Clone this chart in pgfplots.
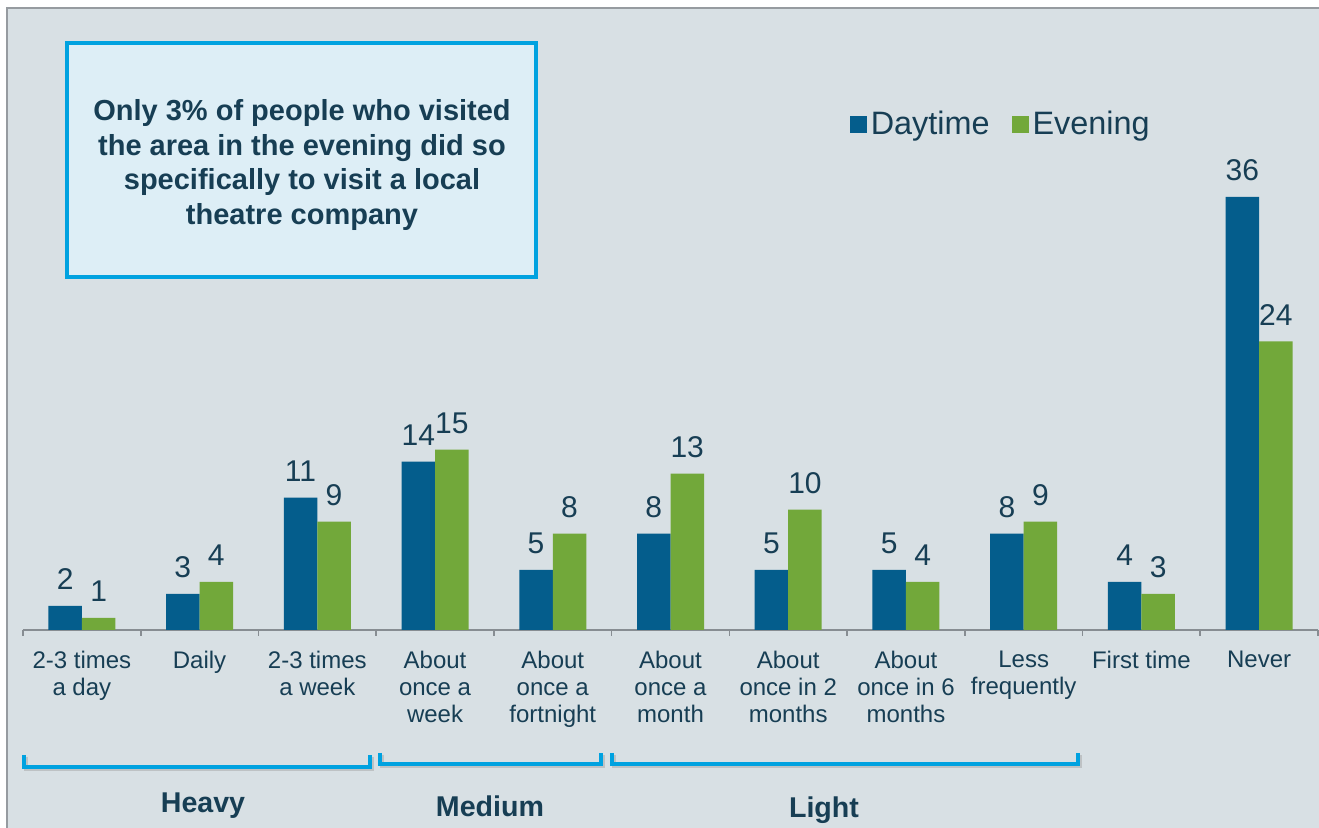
\documentclass[border=0pt]{standalone}
\usepackage{fontspec}
\setmainfont{Liberation Sans}
\usepackage{pgfplots}
\pgfplotsset{compat=1.18}

\definecolor{panel}{RGB}{216,224,228}
\definecolor{panelborder}{RGB}{150,155,160}
\definecolor{day}{RGB}{4,93,140}
\definecolor{eve}{RGB}{114,168,58}
\definecolor{txt}{RGB}{23,62,84}
\definecolor{bracket}{RGB}{0,162,224}
\definecolor{boxfill}{RGB}{221,238,246}
\definecolor{axisgray}{RGB}{135,141,146}

\begin{document}
\begin{tikzpicture}
\path[use as bounding box] (0,0) rectangle (659.5pt,414pt);
\fill[white] (0,0) rectangle (659.5pt,414pt);
\fill[panel] (3.5pt,0) rectangle (659.5pt,410pt);
\draw[panelborder, line width=0.8pt] (3.5pt,0) -- (3.5pt,410pt) -- (659.5pt,410pt);

\begin{axis}[
  at={(11.5pt,99pt)}, anchor=south west,
  scale only axis, width=647.5pt, height=240.6pt,
  xmin=-0.5, xmax=10.5, ymin=0, ymax=40,
  ybar=0pt, bar width=16.75pt,
  axis y line=none, axis x line*=bottom,
  x axis line style={axisgray, line width=0.8pt},
  xtick={-0.5,0.5,...,10.5},
  x tick label as interval,
  xticklabels={{2-3 times\\a day},{Daily},{2-3 times\\a week},{About\\once a\\week},{About\\once a\\fortnight},{About\\once a\\month},{About\\once in 2\\months},{About\\once in 6\\months},{Less\\frequently},{First time},{Never}},
  xticklabel style={font=\fontsize{12}{13.5}\selectfont, text=txt, align=center, yshift=-4pt},
  major tick length=3pt, tick align=outside,
  xtick style={axisgray, line width=0.8pt},
  /pgf/number format/assume math mode=true,
  nodes near coords,
  every node near coord/.append style={font=\fontsize{15}{18}\selectfont, text=txt, yshift=4.5pt},
  legend style={at={(0.6335,1.05)}, anchor=west, draw=none, fill=none,
    font=\fontsize{16.2}{19}\selectfont, text=txt,
    /tikz/every even column/.append style={column sep=9pt}},
  legend columns=2,
  legend image code/.code={\fill[#1,draw=none] (0pt,-4.25pt) rectangle (8.5pt,4.25pt);},
]
\addplot[fill=day, draw=none] coordinates {
(0,2) (1,3) (2,11) (3,14) (4,5) (5,8) (6,5) (7,5) (8,8) (9,4) (10,36)
};
\addplot[fill=eve, draw=none] coordinates {
(0,1) (1,4) (2,9) (3,15) (4,8) (5,13) (6,10) (7,4) (8,9) (9,3) (10,24)
};
\legend{Daytime,Evening}
\end{axis}

% callout box
\node[draw=bracket, line width=2pt, fill=boxfill, minimum width=234.5pt, minimum height=117pt]
  at (150.75pt,334pt) {};
\node[align=center, text=txt, font=\bfseries\fontsize{14.5}{17.2}\selectfont]
  at (151pt,331.5pt)
  {Only 3\% of people who visited\\the area in the evening did so\\specifically to visit a local\\theatre company};

% group brackets
\begin{scope}[line width=2pt]
\draw[black!35, opacity=0.5, xshift=0.8pt, yshift=-0.8pt] (12pt,36.5pt) -- (12pt,30.5pt) -- (185pt,30.5pt) -- (185pt,36.5pt);
\draw[black!35, opacity=0.5, xshift=0.8pt, yshift=-0.8pt] (190pt,37.5pt) -- (190pt,32pt) -- (300.5pt,32pt) -- (300.5pt,37.5pt);
\draw[black!35, opacity=0.5, xshift=0.8pt, yshift=-0.8pt] (306pt,37.5pt) -- (306pt,32pt) -- (539pt,32pt) -- (539pt,37.5pt);
\draw[bracket] (12pt,36.5pt) -- (12pt,30.5pt) -- (185pt,30.5pt) -- (185pt,36.5pt);
\draw[bracket] (190pt,37.5pt) -- (190pt,32pt) -- (300.5pt,32pt) -- (300.5pt,37.5pt);
\draw[bracket] (306pt,37.5pt) -- (306pt,32pt) -- (539pt,32pt) -- (539pt,37.5pt);
\end{scope}
\begin{scope}[font=\bfseries\fontsize{14.3}{17}\selectfont, text=txt]
\node at (101.5pt,11pt) {Heavy};
\node at (245pt,11pt) {Medium};
\node at (412pt,9pt) {Light};
\end{scope}
\end{tikzpicture}
\end{document}
